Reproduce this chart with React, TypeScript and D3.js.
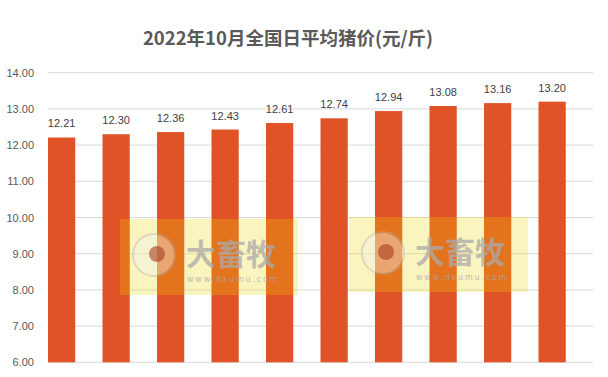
import React from "react";
import * as d3 from "d3";

const title = "2022年10月全国日平均猪价(元/斤)";
const days = ["1", "2", "3", "4", "5", "6", "7", "8", "9", "10"];
const prices = [12.21, 12.3, 12.36, 12.43, 12.61, 12.74, 12.94, 13.08, 13.16, 13.2];
const yTicks = [6, 7, 8, 9, 10, 11, 12, 13, 14];
// watermark boxes [x, y, w, h]
const marks = [
  [120, 219, 178, 76],
  [349, 217, 179, 75],
];

const W = 608;
const H = 377;
const font = "'Liberation Sans', Arial, sans-serif";

const App = () => {
  const x = d3.scaleBand<string>().domain(days).range([48, 593]);
  const y = d3.scaleLinear().domain([6, 14]).range([362.3, 72.7]);
  const bw = x.step() * 0.5;

  return (
    <svg width={W} height={H} style={{ position: "absolute", left: 0, top: 0 }}>
      <rect width={W} height={H} fill="#fff" />
      <text x={288} y={45} textAnchor="middle" fontFamily="'Noto Sans CJK SC', sans-serif" fontWeight="bold" fontSize={18.5} fill="#595959">
        {title}
      </text>
      {yTicks.map((t) => (
        <g key={t}>
          <line x1={48} x2={593} y1={y(t)} y2={y(t)} stroke="#d9d9d9" strokeWidth={1} />
          <text x={34} y={y(t) + 4} textAnchor="end" fontFamily={font} fontSize={11} fill="#595959">
            {t.toFixed(2)}
          </text>
        </g>
      ))}
      {prices.map((v, i) => (
        <g key={i}>
          <rect x={x(days[i])!} y={y(v)} width={bw} height={y(6) - y(v)} fill="#e05327" />
          <text x={x(days[i])! + bw / 2} y={y(v) - 10} textAnchor="middle" fontFamily={font} fontSize={11} fill="#404040">
            {v.toFixed(2)}
          </text>
        </g>
      ))}
      {marks.map(([mx, my, mw, mh], i) => (
        <g key={i}>
          <rect x={mx} y={my} width={mw} height={mh} fill="#ecd400" opacity={0.25} />
          <circle cx={mx + 34} cy={my + 36} r={21} fill="#f2f2f2" opacity={0.4} stroke="#b0b0b0" strokeWidth={2} />
          <circle cx={mx + 37} cy={my + 35} r={8} fill="#a84020" opacity={0.6} />
          <text x={mx + 66} y={my + 46} fontFamily="'Noto Sans CJK SC', sans-serif" fontWeight="bold" fontSize={30} fill="#aaaaaa" opacity={0.75}>
            大畜牧
          </text>
          <text x={mx + 67} y={my + 63} fontFamily="'DejaVu Sans', sans-serif" fontSize={8} fill="#aaaaaa" opacity={0.75} letterSpacing={1.8}>
            www.dxumu.com
          </text>
        </g>
      ))}
    </svg>
  );
};

export default App;
